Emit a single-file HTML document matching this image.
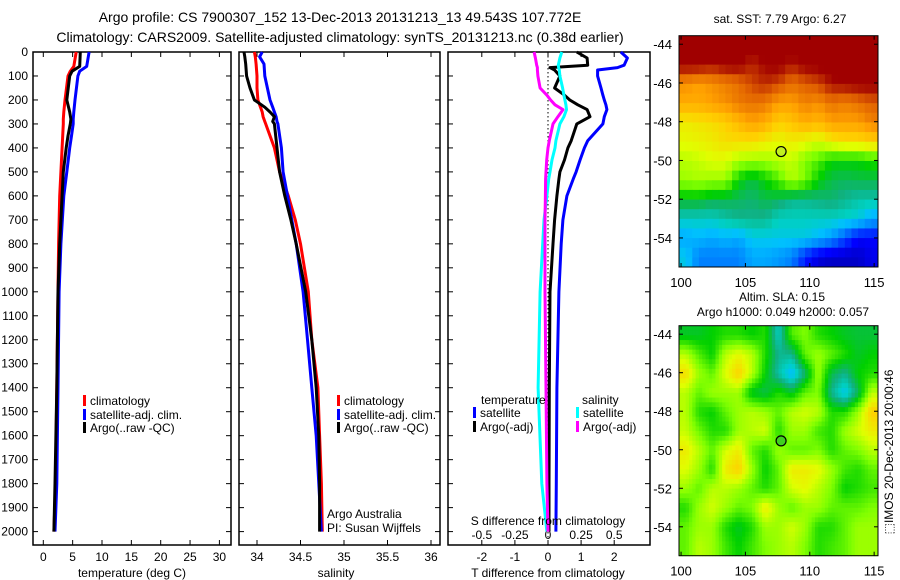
<!DOCTYPE html>
<html><head><meta charset="utf-8"><style>
body{margin:0;background:#fff;width:900px;height:580px;overflow:hidden}
svg{display:block;font-family:"Liberation Sans",sans-serif}
text{fill:#000}
</style></head><body>
<svg id="c" width="900" height="580" xmlns="http://www.w3.org/2000/svg">
<text x="340" y="22" font-size="14" text-anchor="middle">Argo profile: CS 7900307_152 13-Dec-2013 20131213_13 49.543S 107.772E</text>
<text x="340" y="42" font-size="14" text-anchor="middle">Climatology: CARS2009. Satellite-adjusted climatology: synTS_20131213.nc (0.38d earlier)</text>
</svg>
<script>
// ---- data ----
const depthT=[0,60,80,100,200,250,280,300,350,400,500,600,800,1000,1400,1800,2000];
const tClim=[5.6,5.2,4.6,4.2,3.7,3.5,3.4,3.4,3.3,3.2,3.0,2.8,2.6,2.5,2.3,2.1,1.8];
const tSat=[7.8,7.4,6.2,5.9,5.4,5.2,5.1,5.1,4.8,4.5,4.0,3.5,3.0,2.7,2.5,2.3,2.0];
const tArgo=[6.3,6.2,4.9,4.5,4.0,4.5,4.7,4.6,4.2,3.9,3.4,3.2,2.8,2.5,2.3,2.0,1.8];
const depthS=[0,20,50,100,150,200,230,250,270,290,300,400,500,600,700,800,1000,1200,1400,1600,1800,2000];
const sClim=[33.97,33.98,33.99,34.0,34.0,34.01,34.04,34.06,34.07,34.09,34.1,34.2,34.26,34.36,34.44,34.5,34.59,34.63,34.7,34.72,34.74,34.75];
const sSat=[34.06,34.03,34.08,34.09,34.12,34.15,34.18,34.2,34.22,34.23,34.24,34.28,34.3,34.35,34.4,34.45,34.53,34.58,34.63,34.68,34.71,34.74];
const sArgo=[33.85,33.86,33.87,33.88,33.92,33.97,34.09,34.15,34.2,34.18,34.2,34.23,34.26,34.32,34.39,34.45,34.56,34.63,34.68,34.71,34.72,34.72];
const depthD=[0,25,55,65,75,100,150,180,200,220,240,270,300,370,400,450,500,530,600,700,800,1000,1400,1800,2000];
const dTSat=[2.2,2.4,2.3,2.1,1.5,1.5,1.6,1.66,1.7,1.75,1.78,1.7,1.66,1.2,1.1,0.97,0.85,0.76,0.57,0.45,0.4,0.33,0.27,0.25,0.24];
const dTArgo=[0.87,1.18,1.2,0.06,0.2,0.36,0.2,0.5,0.66,0.9,1.18,1.27,0.87,0.7,0.6,0.5,0.36,0.33,0.27,0.2,0.15,0.06,0.04,0.03,0.03];
const dSSat=[0.104,0.09,0.078,0.08,0.085,0.09,0.11,0.12,0.128,0.135,0.14,0.12,0.09,0.06,0.053,0.03,0.015,0.005,-0.008,-0.03,-0.04,-0.06,-0.075,-0.047,-0.008];
const dSArgo=[-0.105,-0.095,-0.085,-0.08,-0.08,-0.076,-0.06,-0.008,0.02,0.053,0.113,0.075,0.038,0.01,0,-0.01,-0.015,-0.018,-0.02,-0.023,-0.023,-0.023,-0.015,-0.008,0];
const depthTicks=[0,100,200,300,400,500,600,700,800,900,1000,1100,1200,1300,1400,1500,1600,1700,1800,1900,2000];
const tTicks=[0,5,10,15,20,25,30];
const sTicks=[34,34.5,35,35.5,36];
const sTickLabels=["34","34.5","35","35.5","36"];
const dTTicks=[-2,-1,0,1,2];
const dSTicks=[-0.5,-0.25,0,0.25,0.5];
const dSTickLabels=["-0.5","-0.25","0","0.25","0.5"];
const lonTicks=[100,105,110,115];
const latTicks=[-44,-46,-48,-50,-52,-54];
const sstGrid=[
[0.97,0.97,0.97,0.97,0.97,0.97,0.97,0.97,0.97,0.97,0.97,0.97,0.97,0.97,0.97],
[0.96,0.96,0.94,0.96,0.96,0.92,0.95,0.96,0.93,0.96,0.96,0.97,0.97,0.97,0.97],
[0.82,0.8,0.82,0.84,0.86,0.9,0.92,0.9,0.86,0.88,0.9,0.94,0.95,0.96,0.96],
[0.78,0.78,0.8,0.82,0.85,0.86,0.85,0.8,0.8,0.84,0.82,0.86,0.84,0.86,0.88],
[0.68,0.69,0.7,0.72,0.76,0.8,0.78,0.72,0.74,0.78,0.76,0.8,0.8,0.8,0.84],
[0.66,0.67,0.68,0.7,0.7,0.7,0.68,0.66,0.68,0.66,0.64,0.68,0.7,0.7,0.72],
[0.62,0.63,0.65,0.65,0.61,0.6,0.6,0.62,0.63,0.58,0.55,0.5,0.5,0.5,0.52],
[0.6,0.61,0.6,0.6,0.5,0.46,0.5,0.55,0.62,0.58,0.5,0.46,0.45,0.46,0.46],
[0.48,0.48,0.46,0.46,0.45,0.44,0.46,0.45,0.42,0.42,0.43,0.44,0.42,0.4,0.4],
[0.38,0.38,0.38,0.4,0.42,0.42,0.42,0.38,0.38,0.38,0.38,0.38,0.37,0.36,0.3],
[0.3,0.32,0.3,0.32,0.3,0.35,0.35,0.35,0.35,0.35,0.32,0.28,0.2,0.12,0.12],
[0.35,0.25,0.25,0.25,0.25,0.3,0.3,0.28,0.25,0.15,0.08,0.06,0.06,0.06,0.1]];
const slaGrid=[
[0.48,0.48,0.5,0.52,0.52,0.5,0.52,0.38,0.55,0.58,0.52,0.5,0.48,0.47,0.47],
[0.62,0.55,0.5,0.62,0.66,0.62,0.52,0.42,0.42,0.56,0.6,0.56,0.52,0.48,0.5],
[0.7,0.6,0.56,0.65,0.72,0.62,0.5,0.4,0.32,0.44,0.6,0.46,0.42,0.5,0.52],
[0.62,0.56,0.6,0.6,0.6,0.48,0.46,0.52,0.48,0.56,0.58,0.42,0.34,0.45,0.62],
[0.62,0.52,0.5,0.56,0.6,0.62,0.6,0.56,0.62,0.64,0.62,0.52,0.52,0.6,0.72],
[0.63,0.57,0.52,0.52,0.6,0.62,0.64,0.52,0.6,0.6,0.54,0.52,0.6,0.64,0.68],
[0.68,0.62,0.56,0.64,0.68,0.56,0.52,0.6,0.56,0.56,0.58,0.52,0.56,0.58,0.62],
[0.65,0.6,0.52,0.68,0.72,0.6,0.5,0.56,0.68,0.68,0.66,0.6,0.54,0.52,0.56],
[0.6,0.56,0.62,0.62,0.6,0.56,0.52,0.56,0.64,0.66,0.62,0.58,0.5,0.52,0.54],
[0.52,0.6,0.64,0.6,0.56,0.58,0.68,0.6,0.56,0.6,0.6,0.56,0.56,0.56,0.58],
[0.56,0.6,0.6,0.52,0.48,0.52,0.6,0.6,0.64,0.6,0.52,0.52,0.56,0.6,0.6],
[0.56,0.62,0.6,0.54,0.5,0.54,0.58,0.6,0.62,0.58,0.52,0.54,0.56,0.6,0.6]];
const argoLon=[107.77];
const argoLat=[-49.54];

// ---- helpers ----
const svg=document.getElementById('c');
const NS='http://www.w3.org/2000/svg';
function el(tag,attrs,parent){const e=document.createElementNS(NS,tag);for(const k in attrs)e.setAttribute(k,attrs[k]);(parent||svg).appendChild(e);return e;}
function txt(x,y,s,size,anchor,parent){const t=el('text',{x:x,y:y,'font-size':size||12,'text-anchor':anchor||'start'},parent);t.textContent=s;return t;}
const Y0=52,Y1=545;
const yD=d=>Y0+d*0.2398;
const xT=v=>43.3+v*5.87;
const xS=v=>257+(v-34)*87;
const xdT=v=>548+v*33.1;
const xdS=v=>548+v*132.4;

function panel(x0,x1,name){
  const g=el('g',{});
  
  
  el('rect',{x:x0,y:Y0,width:x1-x0,height:Y1-Y0,fill:'none',stroke:'#000','stroke-width':1.5},g);
  depthTicks.forEach(d=>{const y=yD(d);
    el('line',{x1:x0,x2:x0+5,y1:y,y2:y,stroke:'#000'},g);
    el('line',{x1:x1-5,x2:x1,y1:y,y2:y,stroke:'#000'},g);});
  return g;
}
function xticks(g,vals,f,labels,ylab){
  vals.forEach((v,i)=>{const x=f(v);
    el('line',{x1:x,x2:x,y1:Y1,y2:Y1-5,stroke:'#000'},g);
    el('line',{x1:x,x2:x,y1:Y0,y2:Y0+5,stroke:'#000'},g);
    if(ylab){const t=txt(x,ylab,labels[i],12,'middle',g);}
  });
}
function line(g,xs,ds,fx,color,name){
  const pts=xs.map((v,i)=>fx(v).toFixed(1)+','+yD(ds[i]).toFixed(1)).join(' ');
  const p=el('polyline',{points:pts,fill:'none',stroke:color,'stroke-width':3,'stroke-linejoin':'round'},g);
  
  
}
function legend(g,x,y,color,label){
  const r=el('rect',{x:x,y:y-10,width:3,height:11,fill:color},g);
  
  
  const t=txt(x+7,y,label,12,'start',g);
  
  
}

// ---- panel 1: temperature ----
const p1=panel(33,231,'temperature-panel');
depthTicks.forEach(d=>{const t=txt(28,yD(d)+4,String(d),12,'end',p1);});
xticks(p1,tTicks,xT,tTicks.map(String),561);
const xt1=txt(132,577,'temperature (deg C)',12,'middle',p1);


line(p1,tClim,depthT,xT,'#f00','temp-climatology-line');
line(p1,tSat,depthT,xT,'#00f','temp-satellite-line');
line(p1,tArgo,depthT,xT,'#000','temp-argo-line');
legend(p1,83,405,'#f00','climatology');
legend(p1,83,419,'#00f','satellite-adj. clim.');
legend(p1,83,432,'#000','Argo(..raw -QC)');

// ---- panel 2: salinity ----
const p2=panel(239,440,'salinity-panel');
xticks(p2,sTicks,xS,sTickLabels,561);
const xt2=txt(336,577,'salinity',12,'middle',p2);


line(p2,sClim,depthS,xS,'#f00','sal-climatology-line');
line(p2,sSat,depthS,xS,'#00f','sal-satellite-line');
line(p2,sArgo,depthS,xS,'#000','sal-argo-line');
legend(p2,337,405,'#f00','climatology');
legend(p2,337,419,'#00f','satellite-adj. clim.');
legend(p2,337,432,'#000','Argo(..raw -QC)');
const aa=txt(327,518,'Argo Australia',12,'start',p2);


const pi=txt(327,532,'PI: Susan Wijffels',12,'start',p2);



// ---- panel 3: differences ----
const p3=panel(448,650,'difference-panel');
el('line',{x1:548,x2:548,y1:Y0,y2:Y1,stroke:'#000','stroke-dasharray':'1.5,2.5'},p3);
xticks(p3,dTTicks,xdT,dTTicks.map(String),561);
dSTickLabels.forEach((l,i)=>{const t=txt(xdS(dSTicks[i]),539,l,12,'middle',p3);});
line(p3,dTSat,depthD,xdT,'#00f','dT-satellite-line');
line(p3,dTArgo,depthD,xdT,'#000','dT-argo-line');
line(p3,dSSat,depthD,xdS,'#0ff','dS-satellite-line');
line(p3,dSArgo,depthD,xdS,'#f0f','dS-argo-line');
const st=txt(548,525,'S difference from climatology',12,'middle',p3);


const tt=txt(548,577,'T difference from climatology',12,'middle',p3);


const th=txt(481,404,'temperature',12,'start',p3);


const sh=txt(582,404,'salinity',12,'start',p3);


legend(p3,473,417,'#00f','satellite');
legend(p3,473,431,'#000','Argo(-adj)');
legend(p3,576,417,'#0ff','satellite');
legend(p3,576,431,'#f0f','Argo(-adj)');

// ---- maps ----
const cstops=[[0,[0,0,144]],[0.12,[0,0,255]],[0.25,[0,128,255]],[0.33,[0,192,255]],[0.38,[0,208,192]],[0.43,[16,176,128]],[0.5,[0,208,0]],[0.58,[128,255,0]],[0.65,[224,255,0]],[0.72,[255,208,0]],[0.8,[255,160,0]],[0.88,[224,96,0]],[0.95,[160,0,0]],[1,[160,0,0]]];
function cmap(v){for(let i=1;i<cstops.length;i++){if(v<=cstops[i][0]){const a=cstops[i-1],b=cstops[i];const t=(v-a[0])/(b[0]-a[0]);const c=a[1].map((x,k)=>Math.round(x+(b[1][k]-x)*t));return 'rgb('+c.join(',')+')';}}return 'rgb(160,0,0)';}
function sample(grid,r,c){ // bilinear sample at fractional cell-centre coords
  const nr=grid.length,nc=grid[0].length;
  r=Math.max(0,Math.min(nr-1,r));c=Math.max(0,Math.min(nc-1,c));
  const r0=Math.floor(r),c0=Math.floor(c),r1=Math.min(nr-1,r0+1),c1=Math.min(nc-1,c0+1);
  const fr=r-r0,fc=c-c0;
  return grid[r0][c0]*(1-fr)*(1-fc)+grid[r0][c1]*(1-fr)*fc+grid[r1][c0]*fr*(1-fc)+grid[r1][c1]*fr*fc;
}
function map(grid,top,bottom,name,ptColor,sub){
  const g=el('g',{});
  
  
  const L=679,R=878;
  const lonMin=99.84,lonMax=115.3,latTop=-43.56,latBot=-55.5;
  const xL=v=>L+(v-lonMin)/(lonMax-lonMin)*(R-L);
  const yL=v=>top+(latTop-v)/(latTop-latBot)*(bottom-top);
  const nr=grid.length,nc=grid[0].length;
  const NR=nr*sub,NC=nc*sub;
  for(let r=0;r<NR;r++)for(let c=0;c<NC;c++){
    const v=sub===1?grid[r][c]:sample(grid,(r+0.5)/sub-0.5,(c+0.5)/sub-0.5);
    const lo0=lonMin+c*(lonMax-lonMin)/NC,lo1=lonMin+(c+1)*(lonMax-lonMin)/NC;
    const la0=latTop-r*(latTop-latBot)/NR,la1=latTop-(r+1)*(latTop-latBot)/NR;
    const cell=el('rect',{x:xL(lo0),y:yL(la0),width:xL(lo1)-xL(lo0)+0.5,height:yL(la1)-yL(la0)+0.5,fill:cmap(v)},g);
    
    
  }
  el('rect',{x:L,y:top,width:R-L,height:bottom-top,fill:'none',stroke:'#000'},g);
  lonTicks.forEach(v=>{const x=xL(v);el('line',{x1:x,x2:x,y1:top,y2:top+4,stroke:'#000'},g);el('line',{x1:x,x2:x,y1:bottom,y2:bottom-4,stroke:'#000'},g);
    const t=txt(x,bottom+20,String(v),13,'middle',g);});
  latTicks.forEach(v=>{const y=yL(v);el('line',{x1:L,x2:L+4,y1:y,y2:y,stroke:'#000'},g);el('line',{x1:R-4,x2:R,y1:y,y2:y,stroke:'#000'},g);
    const t=txt(672,y+5,String(v),13,'end',g);});
  const c=el('circle',{cx:xL(argoLon[0]),cy:yL(argoLat[0]),r:5,fill:ptColor,stroke:'#000','stroke-width':1.2},g);
  
  
}
map(sstGrid,35.7,267,'sst-map','#c0f020',2);
map(slaGrid,325.7,555.7,'sla-map','#40d020',4);
const m1=txt(780,23,'sat. SST: 7.79 Argo: 6.27',12,'middle');


const m2=txt(782,301,'Altim. SLA: 0.15',12,'middle');


const m3=txt(783,316,'Argo h1000: 0.049 h2000: 0.057',12,'middle');


const side=txt(0,0,'⬚IMOS 20-Dec-2013 20:00:46',12,'middle');
side.setAttribute('transform','translate(893,452) rotate(-90)');


</script>
</body></html>
